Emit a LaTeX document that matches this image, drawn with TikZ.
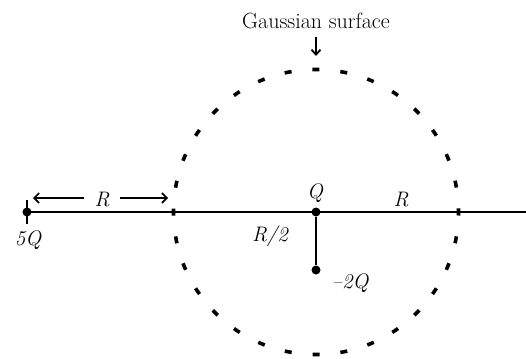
\documentclass[tikz,border=0pt]{standalone}
\usetikzlibrary{arrows.meta}
\begin{document}
\begin{tikzpicture}[x=1pt,y=-1pt,
  lbl/.style={font=\fontsize{21}{24}\selectfont\itshape, inner sep=0pt},
  ttl/.style={font=\fontsize{22}{26}\selectfont, inner sep=0pt},
  axis/.style={line width=2.6pt},
  charge/.style={circle, fill=black, minimum size=9pt, inner sep=0pt},
  gauss/.style={line width=3.6pt, dash pattern=on 7pt off 20.98pt, dash phase=3.5pt},
  dimarrow/.style={line width=1.6pt, -{Straight Barb[length=5pt,width=10pt,line width=1.6pt]}},
  ptr/.style={line width=1.8pt, -{Straight Barb[length=5pt,width=9pt,line width=1.8pt]}}
]
\useasboundingbox (0,0) rectangle (526,358);
% axis
\coordinate (left) at (27,212);
\coordinate (right) at (526,212);
\draw[axis] (left) -- (right);
% gaussian surface
\draw[gauss] (316,212) circle[radius=142.5];
% charges
\node[charge] (c5) at (27,212) {};
\coordinate (tt) at (27,200);
\coordinate (tb) at (27,224);
\draw[line width=2.6pt] (tt) -- (tb);
\node[charge] (cq) at (316,212) {};
\node[charge] (c2) at (316,270) {};
\draw[axis] (cq) -- (c2);
% labels
\node[lbl] (l5q) at (28,240) {5Q};
\node[lbl] (lq) at (315,193) {Q};
\node[lbl] (lr2) at (270,236) {R/2};
\node[lbl] (l2q) at (350,283) {\textendash2Q};
\node[lbl] (lrr) at (401,200) {R};
\node[lbl] (lr) at (102,200) {R};
% R dimension arrows
\coordinate (al) at (33,198);
\coordinate (ar) at (168,198);
\draw[dimarrow] (84,198) -- (al);
\draw[dimarrow] (120,198) -- (ar);
% title
\node[ttl] (title) at (316,21) {Gaussian surface};
\coordinate (pt) at (316,56);
\draw[ptr] (316,37) -- (pt);
\end{tikzpicture}
\end{document}
